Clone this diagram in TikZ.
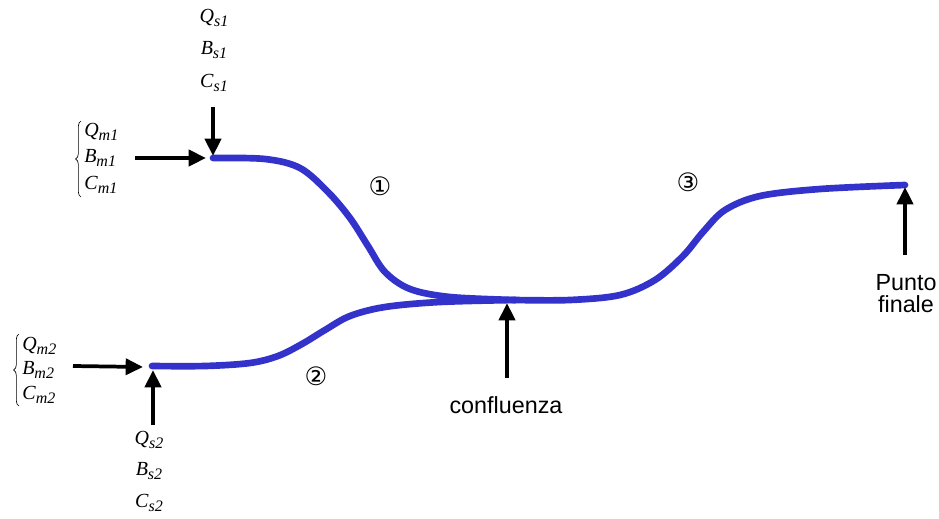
\documentclass[tikz,border=0pt]{standalone}
\usepackage{fontspec}
\setmainfont{Liberation Serif}
\setsansfont{Liberation Sans}
\newfontfamily\symfont{DejaVu Sans}
\usetikzlibrary{arrows.meta,decorations.pathreplacing}
\definecolor{rivercol}{RGB}{51,51,204}
\newcommand\vq[2]{\textit{#1}\raisebox{-0.45ex}{\fontsize{12}{12}\selectfont\textit{#2}}}
\begin{document}
\begin{tikzpicture}[x=0.75pt,y=-0.75pt,
 river/.style={draw=rivercol,line width=5pt,line cap=round},
 inarrow/.style={draw=black,line width=2.8pt,-{Triangle[length=13pt,width=12pt]}},
 var/.style={font=\fontsize{15}{15}\selectfont,inner sep=0pt},
 lab/.style={font=\sffamily\fontsize{17.5}{17.5}\selectfont,inner sep=0pt},
 circ/.style={font=\symfont\fontsize{19}{19}\selectfont,inner sep=0pt},
 bracestyle/.style={draw=black,line width=0.5pt,decorate,decoration={brace,amplitude=4pt}}]
\useasboundingbox (0,0) rectangle (939,518);
% key points
\coordinate (s1) at (213,158);
\coordinate (s2) at (152,366);
\coordinate (conf) at (515,300);
\coordinate (fin) at (905,185);
% reaches
\draw[river] plot[smooth,tension=0.55] coordinates {(213,158) (265,159) (300,168) (328,192) (350,218) (368,246) (385,272) (410,289) (450,297) (515,300)};
\draw[river] plot[smooth,tension=0.55] coordinates {(152,366) (205,366) (250,363) (278,356) (302,344) (325,330) (350,316) (385,307) (440,302) (515,300)};
\draw[river] plot[smooth,tension=0.55] coordinates {(515,300) (570,300) (620,295) (655,280) (683,256) (703,232) (725,210) (760,196) (820,189) (905,185)};
% arrow tails
\coordinate (s1in) at (213,107);
\coordinate (m1in) at (135,158);
\coordinate (s2in) at (153,425);
\coordinate (m2in) at (73,366);
\coordinate (confin) at (507,378);
\coordinate (finin) at (905,255);
\coordinate (s1tip) at (213,156);
\coordinate (m1tip) at (206,158);
\coordinate (s2tip) at (153,370);
\coordinate (m2tip) at (143,367);
\coordinate (conftip) at (507,303);
\coordinate (fintip) at (905,187);
\draw[inarrow] (s1in) -- (s1tip);
\draw[inarrow] (m1in) -- (m1tip);
\draw[inarrow] (s2in) -- (s2tip);
\draw[inarrow] (m2in) -- (m2tip);
\draw[inarrow] (confin) -- (conftip);
\draw[inarrow] (finin) -- (fintip);
% source 1 labels
\node[var] (qs1) at (214,18) {\vq{Q}{s1}};
\node[var] (bs1) at (214,50) {\vq{B}{s1}};
\node[var] (cs1) at (214,83) {\vq{C}{s1}};
\node[var,anchor=west] (qm1) at (84,132) {\vq{Q}{m1}};
\node[var,anchor=west] (bm1) at (84,158) {\vq{B}{m1}};
\node[var,anchor=west] (cm1) at (84,185) {\vq{C}{m1}};
\draw[bracestyle] (81,197) -- (81,121);
% source 2 labels
\node[var,anchor=west] (qm2) at (22,346) {\vq{Q}{m2}};
\node[var,anchor=west] (bm2) at (22,370) {\vq{B}{m2}};
\node[var,anchor=west] (cm2) at (22,395) {\vq{C}{m2}};
\draw[bracestyle] (19,406) -- (19,334);
\node[var] (qs2) at (149,440) {\vq{Q}{s2}};
\node[var] (bs2) at (149,471) {\vq{B}{s2}};
\node[var] (cs2) at (149,503) {\vq{C}{s2}};
% other labels
\node[lab] (conflab) at (506,405) {confluenza};
\node[lab] (punto) at (906,283) {Punto};
\node[lab] (finale) at (906,304) {finale};
\node[circ] (n1) at (380,186) {①};
\node[circ] (n2) at (316,376) {②};
\node[circ] (n3) at (688,182) {③};
\end{tikzpicture}
\end{document}
